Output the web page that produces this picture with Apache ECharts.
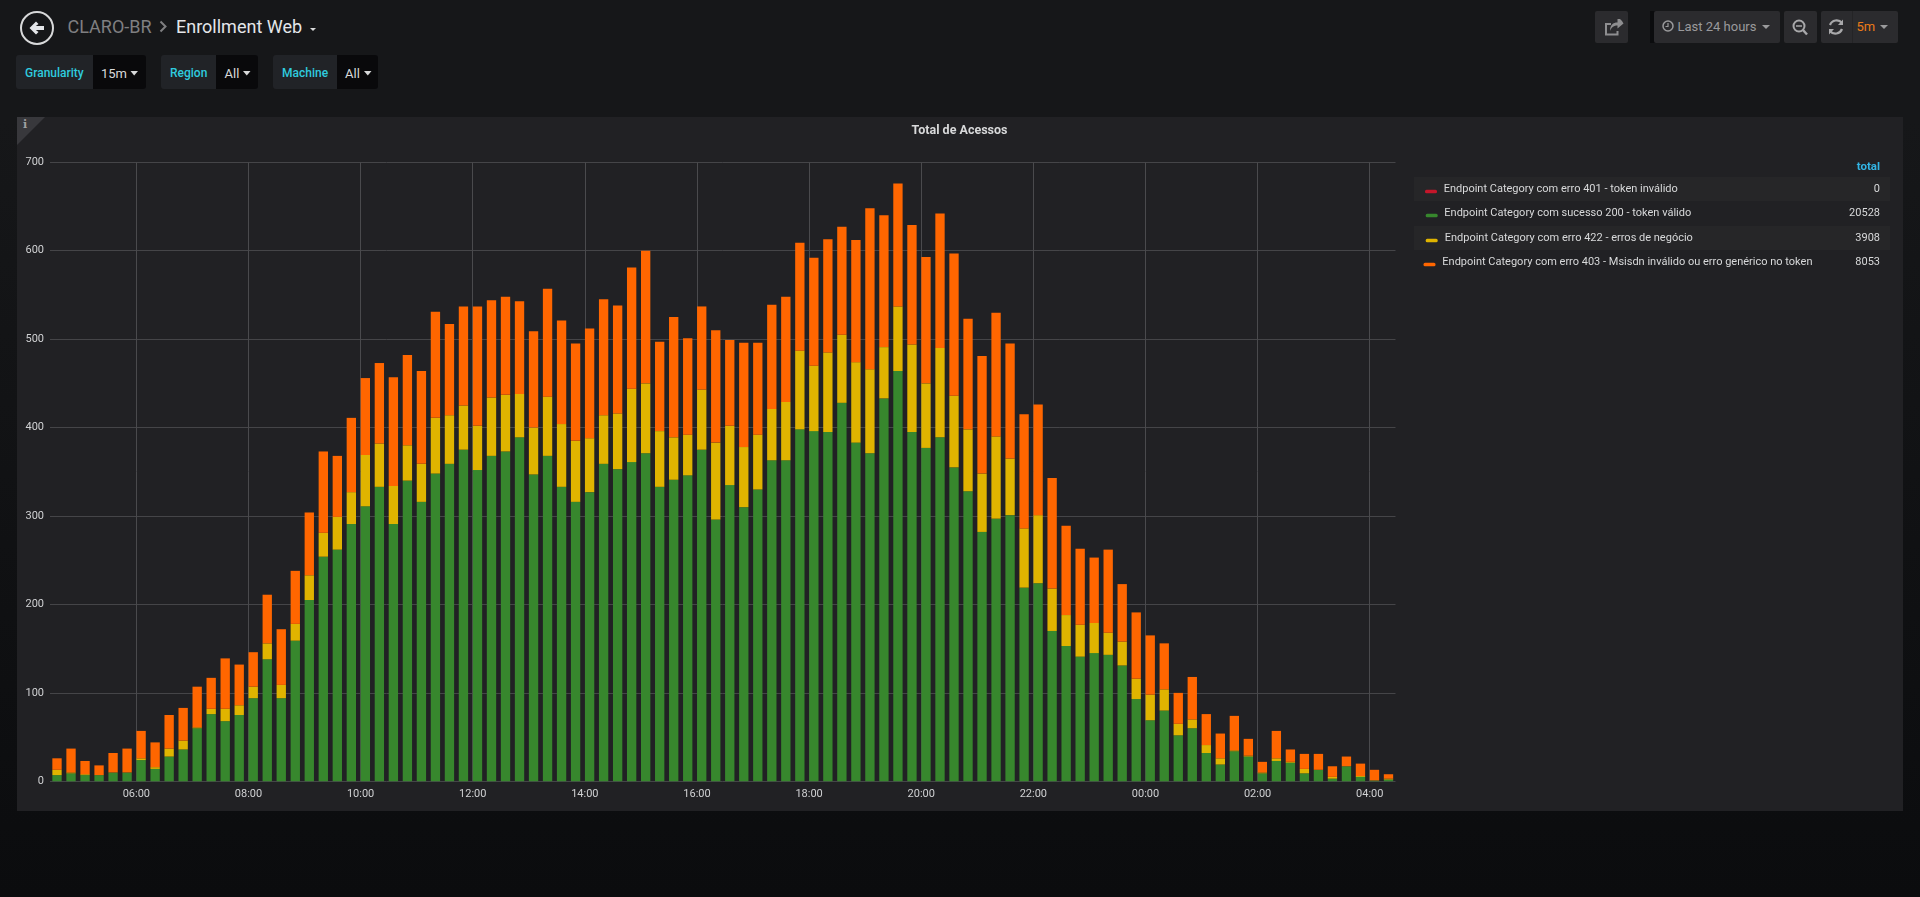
<!DOCTYPE html>
<html><head><meta charset="utf-8"><title>Enrollment Web</title>
<script src="https://cdn.jsdelivr.net/npm/echarts@6/dist/echarts.min.js"></script>
<style>
html,body{margin:0;padding:0;width:1920px;height:897px;overflow:hidden;font-family:Roboto,sans-serif;
 background:linear-gradient(#161719 0,#161719 120px,#0b0c0e 897px);}
.a{position:absolute;white-space:nowrap}
.lbl{background:#212327;border-radius:3px 0 0 3px;height:34px}
.val{background:#09090b;border-radius:0 3px 3px 0;height:34px}
.cy{color:#2fcbdf;font-size:12px;font-weight:500;top:65px;line-height:16px}
.wh{color:#d8d9da;font-size:13px;top:65px;line-height:17px}
.btn{background:#2b2b2e;border-radius:2px;top:11px;height:32px}
#panel{left:17px;top:117px;width:1886px;height:694px;background:#212124}
#main{left:0;top:0;width:1920px;height:897px}
svg{position:absolute;left:0;top:0}
</style></head>
<body>
<div class="a" id="panel"></div>
<div class="a lbl" style="left:16px;top:55px;width:77px"></div><div class="a val" style="left:93px;top:55px;width:52.5px"></div>
<div class="a lbl" style="left:161px;top:55px;width:55px"></div><div class="a val" style="left:216px;top:55px;width:42px"></div>
<div class="a lbl" style="left:273px;top:55px;width:64px"></div><div class="a val" style="left:337px;top:55px;width:41px"></div>
<div class="a cy" style="left:25px">Granularity</div><div class="a wh" style="left:101px">15m</div>
<div class="a cy" style="left:170px">Region</div><div class="a wh" style="left:224.5px">All</div>
<div class="a cy" style="left:282px">Machine</div><div class="a wh" style="left:345px">All</div>
<div class="a" style="left:67.5px;top:16px;font-size:18px;line-height:22px;color:#7f7f81">CLARO-BR</div>
<div class="a" style="left:176px;top:16px;font-size:18px;line-height:22px;color:#e4e6e9">Enrollment Web</div>
<div class="a btn" style="left:1595px;width:33px"></div>
<div class="a" style="left:1650px;top:11px;width:6px;height:32px;background:#0b0c0e"></div>
<div class="a btn" style="left:1654px;width:126px"></div>
<div class="a btn" style="left:1784px;width:33px"></div>
<div class="a btn" style="left:1821px;width:77px"></div>
<div class="a" style="left:1851.5px;top:11px;width:1px;height:32px;background:#242426"></div>
<div class="a" style="left:1677.5px;top:18px;font-size:13px;line-height:17px;color:#9a9a9c">Last 24 hours</div>
<div class="a" style="left:1856.5px;top:18px;font-size:13px;line-height:17px;color:#eb7b18">5m</div>
<svg width="1920" height="897" fill="none">
 <circle cx="37" cy="28" r="16" stroke="#d8d9da" stroke-width="2"/>
 <path d="M29.5 28 L36 21.5 L38.5 24 L35.8 26 L44 26 L44 30 L35.8 30 L38.5 32 L36 34.5 Z" fill="#e4e6e9"/>
 <path d="M160.5 21.5 L165.5 26.5 L160.5 31.5" stroke="#7f7f81" stroke-width="2"/>
 <path d="M310 28 L316 28 L313 31 Z" fill="#d8d9da"/>
 <path d="M130.5 71 L138 71 L134.2 75.5 Z" fill="#d8d9da"/><path d="M243 71 L250.5 71 L246.8 75.5 Z" fill="#d8d9da"/><path d="M364 71 L371.5 71 L367.8 75.5 Z" fill="#d8d9da"/>
 <path d="M1611 24 L1606 24 L1606 34.5 L1617.5 34.5 L1617.5 31" stroke="#8e8e90" stroke-width="2"/>
 <path d="M1610 31 C1610 25 1613 22.5 1617.5 22.5 L1617.5 19 L1620 19 L1620 20 L1620 19 L1622 21 L1623.5 23.5 L1617.5 28.5 L1617.5 25.5 C1614 25.5 1611.5 27 1610 31 Z" fill="#8e8e90"/>
 <circle cx="1668" cy="26" r="5" stroke="#9a9a9c" stroke-width="1.5"/><path d="M1668 23 L1668 26.5 L1665.5 26.5" stroke="#9a9a9c" stroke-width="1.2"/>
 <path d="M1762 25 L1770 25 L1766 29 Z" fill="#9a9a9c"/>
 <circle cx="1799" cy="26" r="5.5" stroke="#a8a8aa" stroke-width="2"/><path d="M1803 30 L1807 34.5" stroke="#a8a8aa" stroke-width="2.4"/><path d="M1796 26 L1802 26" stroke="#a8a8aa" stroke-width="1.5"/>
 <path d="M1830 25 A7 7 0 0 1 1842 23 M1842 29 A7 7 0 0 1 1830 31" stroke="#a8a8aa" stroke-width="2.2"/>
 <path d="M1843 19.5 L1843 25 L1838 25 Z M1829 34.5 L1829 29 L1834 29 Z" fill="#a8a8aa"/>
 <path d="M1880 25 L1888 25 L1884 29 Z" fill="#9a9a9c"/>
 <path d="M17 117 L45 117 L17 145 Z" fill="#38383c"/>
</svg>
<div class="a" style="left:23px;top:118px;font:bold 11px 'DejaVu Serif',serif;line-height:14px;color:#a0a0a2">i</div>
<div class="a" id="main"></div>
<script>
const seriesNames = [
  "Endpoint Category com erro 401 - token inválido",
  "Endpoint Category com sucesso 200 - token válido",
  "Endpoint Category com erro 422 - erros de negócio",
  "Endpoint Category com erro 403 - Msisdn inválido ou erro genérico no token"
];
const seriesTotals = ["0", "20528", "3908", "8053"];
const seriesColors = ["#C4162A", "#37872D", "#E0B400", "#FF6600"];
const err401 = new Array(96).fill(0);
const ok200 = [7,9,7,7,10,10,24,14,28,36,60,76,68,75,94,138,94,159,205,254,262,291,311,333,291,340,316,348,359,375,352,368,373,389,347,368,333,316,327,359,353,361,371,333,341,346,375,296,335,310,330,363,363,398,396,395,428,383,371,433,464,395,377,389,355,328,282,297,301,219,224,170,153,141,145,143,131,93,69,80,52,60,32,19,34,28,9,23,21,9,13,3,17,5,1,2];
const err422 = [6,1,1,0,0,0,2,2,9,10,1,6,14,11,13,18,15,19,28,27,37,36,58,49,43,40,43,63,55,50,50,66,64,49,53,67,71,69,61,55,63,83,79,63,48,46,68,87,67,68,62,58,66,89,74,90,77,91,95,58,73,99,73,101,81,70,66,93,64,67,77,48,35,36,34,25,27,23,29,24,13,10,9,7,1,1,1,3,1,5,0,2,0,1,0,1];
const err403 = [13,27,15,11,22,27,31,28,38,37,46,35,57,46,39,55,63,60,71,92,69,84,87,91,123,102,105,120,103,112,135,110,111,105,109,122,117,110,124,131,122,137,150,101,136,109,94,127,97,118,104,118,119,122,122,128,122,138,182,149,139,135,143,152,161,125,133,140,130,129,125,125,101,86,74,94,65,75,67,52,35,48,35,28,39,19,12,31,14,17,18,12,11,14,12,5];
const panelTitle = "Total de Acessos";
const legendHeader = "total";

const MIN = 60000, HOUR = 3600000;
const firstBucket = Date.UTC(2019, 0, 1, 4, 30);
const step = 15 * MIN;
const axisMin = Date.UTC(2019, 0, 1, 4, 27, 36);
const axisMax = axisMin + 24 * HOUR;
const hhmm = v => echarts.time.format(v, '{HH}:{mm}', true);
const buckets = ok200.map((_, i) => hhmm(firstBucket + i * step));

const rowTop = [177, 0, 226, 0];
const textX = [1443.7, 1444.3, 1444.7, 1442.3];
const swatchX = [1425, 1425.7, 1425.7, 1423.5];
const textY = [189, 213, 238, 262];
const LF = "11px Roboto";
const g = [];
rowTop.forEach(t => { if (t) g.push({type:'rect', shape:{x:1414,y:t,width:476,height:24}, style:{fill:'#262628'}, silent:true}); });
g.push({type:'text', style:{x:1880,y:167,text:legendHeader,align:'right',verticalAlign:'middle',font:'bold 11.5px Roboto',fill:'#33b5e5'}});
seriesNames.forEach((n,i)=>{
  g.push({type:'rect', shape:{x:swatchX[i],y:textY[i]+0.7,width:12,height:3.6,r:1.5}, style:{fill:seriesColors[i]}});
  g.push({type:'text', style:{x:textX[i],y:textY[i],text:n,align:'left',verticalAlign:'middle',font:LF,fill:'#d8d9da'}});
  g.push({type:'text', style:{x:1880,y:textY[i],text:seriesTotals[i],align:'right',verticalAlign:'middle',font:LF,fill:'#d8d9da'}});
});
g.push({type:'text', style:{x:959.5,y:131,text:panelTitle,align:'center',verticalAlign:'middle',font:'bold 12.5px Roboto',fill:'#d8d9da'}});

const chart = echarts.init(document.getElementById('main'), null, {width:1920, height:897});
chart.setOption({
  useUTC: true,
  animation: false,
  backgroundColor: 'transparent',
  textStyle: {fontFamily:'Roboto'},
  grid: {left:50, top:162.3, width:1345.5, height:619, containLabel:false},
  legend: {show:false},
  tooltip: {show:false},
  xAxis: [
    {type:'category', data:buckets, boundaryGap:true, position:'bottom',
     axisLine:{show:false}, axisTick:{show:false}, axisLabel:{show:false}, splitLine:{show:false}},
    {type:'time', min:axisMin, max:axisMax, minInterval:2.5*HOUR, maxInterval:3*HOUR, splitNumber:10, position:'bottom',
     axisLine:{show:false}, axisTick:{show:false},
     axisLabel:{color:'#d0d1d3', fontSize:11, fontFamily:'Roboto', margin:7, showMinLabel:false, showMaxLabel:false,
       hideOverlap:false, formatter: v => hhmm(v)},
     splitLine:{show:true, showMinLine:false, showMaxLine:false, lineStyle:{color:'#4a4a4d', width:1}}}
  ],
  yAxis: {type:'value', min:0, max:700, interval:100,
    axisLine:{show:false}, axisTick:{show:false},
    axisLabel:{color:'#d0d1d3', fontSize:11, fontFamily:'Roboto', margin:6},
    splitLine:{show:true, lineStyle:{color:'#454548', width:1}}},
  series: [err401, ok200, err422, err403].map((arr,i)=>({
    name: seriesNames[i], type:'bar', stack:'total', barWidth:9.34, xAxisIndex:0,
    itemStyle:{color:seriesColors[i]}, data: arr, silent:true
  })),
  graphic: g
});
</script>
</body></html>
